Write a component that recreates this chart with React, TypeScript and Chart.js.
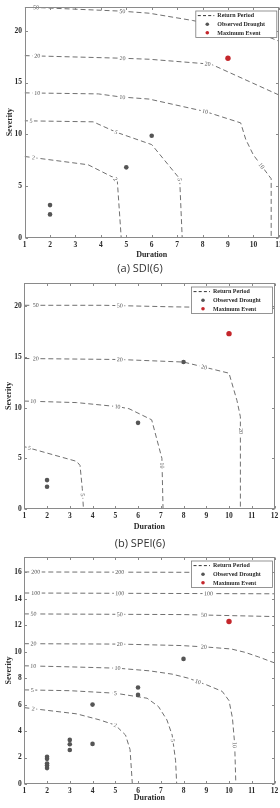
import React, { useEffect, useRef } from "react";
import { Chart, registerables } from "chart.js";

Chart.register(...registerables);

type XY = number[];

// ---------- (a) SDI(6) ----------
const sdiPeriods = ["50", "20", "10", "5", "2"];
const sdiRP50: XY[] = [[1, 22.3], [4.8, 21.9], [5.9, 21.7], [7.6, 21.0], [10.4, 19.6], [11, 19.0]];
const sdiRP20: XY[] = [[1, 17.6], [4.8, 17.35], [5.9, 17.25], [8.2, 16.8], [8.4, 16.7], [11, 13.8]];
const sdiRP10: XY[] = [[1, 14.0], [3.9, 13.9], [4.8, 13.6], [5.9, 13.4], [8.1, 12.2], [9.5, 11.1], [9.7, 9.5], [10.0, 8.0], [10.7, 5.7], [10.7, 0]];
const sdiRP5: XY[] = [[1, 11.3], [3.7, 11.2], [4.6, 10.2], [6.0, 9.0], [7.1, 5.7], [7.2, 0]];
const sdiRP2: XY[] = [[1, 7.85], [3.5, 7.05], [4.55, 5.75], [4.65, 5.4], [4.8, 0]];
const sdiLab50: XY[] = [[1.45, 22.28], [4.85, 21.86]];
const sdiLab20: XY[] = [[1.5, 17.55], [4.85, 17.35], [8.2, 16.8]];
const sdiLab10: XY[] = [[1.5, 14.0], [4.85, 13.58], [8.1, 12.2], [10.35, 7.0]];
const sdiLab5: XY[] = [[1.25, 11.3], [4.6, 10.2], [7.12, 5.6]];
const sdiLab2: XY[] = [[1.35, 7.75], [4.56, 5.65]];
const sdiObserved: XY[] = [[2, 2.25], [2, 3.15], [5, 6.8], [6, 9.85]];
const sdiMaximum: XY[] = [[9, 17.35]];

// ---------- (b) SPEI(6) ----------
const speiPeriods = ["50", "20", "10", "5"];
const speiRP50: XY[] = [[1, 20.1], [4.5, 20.1], [7.5, 19.95], [12, 19.8]];
const speiRP20: XY[] = [[1, 14.85], [5.2, 14.75], [8, 14.5], [10, 13.4], [10.35, 10.7], [10.5, 9.1], [10.5, 0]];
const speiRP10: XY[] = [[1, 10.65], [3.3, 10.5], [5.1, 10.1], [5.6, 9.9], [6.6, 8.8], [7.05, 5.0], [7.1, 0]];
const speiRP5: XY[] = [[1, 6.15], [3.3, 4.7], [3.45, 4.3], [3.55, 2], [3.6, 0]];
const speiLab50: XY[] = [[1.5, 20.1], [5.2, 20.05]];
const speiLab20: XY[] = [[1.5, 14.85], [5.2, 14.75], [8.9, 13.9], [10.47, 7.7]];
const speiLab10: XY[] = [[1.4, 10.6], [5.1, 10.1], [7.05, 4.3]];
const speiLab5: XY[] = [[1.22, 5.95], [3.56, 1.4]];
const speiObserved: XY[] = [[2, 2.2], [2, 2.85], [6, 8.5], [8, 14.5]];
const speiMaximum: XY[] = [[10, 17.3]];

// ---------- (c) third panel ----------
const p3Periods = ["200", "100", "50", "20", "10", "5", "2"];
const p3RP200: XY[] = [[1, 16.02], [12, 15.98]];
const p3RP100: XY[] = [[1, 14.43], [12, 14.37]];
const p3RP50: XY[] = [[1, 12.85], [8, 12.8], [12, 12.65]];
const p3RP20: XY[] = [[1, 10.6], [5.2, 10.57], [7.9, 10.46], [9, 10.35], [10.1, 10.2], [10.7, 9.95], [11.3, 9.6], [12, 9.15]];
const p3RP10: XY[] = [[1, 8.93], [3, 8.85], [5.1, 8.75], [6.5, 8.55], [7.5, 8.3], [8.2, 8.0], [9, 7.5], [9.7, 7.0], [10.0, 6.3], [10.15, 5.0], [10.25, 3.0], [10.3, 0]];
const p3RP5: XY[] = [[1, 7.11], [3, 7.05], [5, 6.86], [6.4, 6.48], [6.9, 5.85], [7.27, 4.84], [7.5, 3.7], [7.65, 1.8], [7.7, 0]];
const p3RP2: XY[] = [[1, 5.77], [3.3, 5.3], [4.3, 4.85], [5, 4.45], [5.45, 3.7], [5.65, 2.6], [5.75, 0]];
const p3Lab200: XY[] = [[1.5, 16.0], [5.2, 16.0]];
const p3Lab100: XY[] = [[1.5, 14.42], [5.2, 14.41], [9.1, 14.39]];
const p3Lab50: XY[] = [[1.4, 12.85], [5.2, 12.84], [8.9, 12.8]];
const p3Lab20: XY[] = [[1.4, 10.59], [5.2, 10.57], [8.9, 10.4]];
const p3Lab10: XY[] = [[1.4, 8.9], [5.1, 8.75], [8.7, 8.05], [10.25, 2.95]];
const p3Lab5: XY[] = [[1.35, 7.1], [5.0, 6.86], [7.56, 3.3]];
const p3Lab2: XY[] = [[1.4, 5.73], [5.0, 4.46]];
const p3Observed: XY[] = [
  [2, 2.05], [2, 1.9], [2, 1.55], [2, 1.4], [2, 1.2],
  [3, 3.33], [3, 3.0], [3, 2.57],
  [4, 6.0], [4, 3.03],
  [6, 7.29], [6, 6.73],
  [8, 9.45],
];
const p3Maximum: XY[] = [[10, 12.28]];

const legendLabels = ["Return Period", "Observed Drought", "Maximum Event"];
const xTitle = "Duration";
const yTitle = "Severity";
const captions = ["(a) SDI(6)", "(b) SPEI(6)"];

const LINE_COLOR = "#707070";
const OBS_COLOR = "#555555";
const MAX_COLOR = "#c4262b";
const FRAME_COLOR = "#8a8a8a";
const TEXT_COLOR = "#2a2a2a";
const SERIF = '"Liberation Serif", "DejaVu Serif", serif';

type PanelSpec = {
  top: number;
  w: number;
  h: number;
  area: { left: number; right: number; top: number; bottom: number };
  xMax: number;
  yMax: number;
  yStep: number;
  periods: string[];
  curves: XY[][];
  labels: XY[][];
  observed: XY[];
  maximum: XY[];
  xTitlePad: number;
  yTitlePad: number;
};

const panels: PanelSpec[] = [
  {
    top: 0, w: 290, h: 262,
    area: { left: 24.6, right: 278.8, top: 7, bottom: 237.7 },
    xMax: 11, yMax: 22.3, yStep: 5,
    periods: sdiPeriods,
    curves: [sdiRP50, sdiRP20, sdiRP10, sdiRP5, sdiRP2],
    labels: [sdiLab50, sdiLab20, sdiLab10, sdiLab5, sdiLab2],
    observed: sdiObserved, maximum: sdiMaximum,
    xTitlePad: 3, yTitlePad: 6,
  },
  {
    top: 276, w: 280, h: 262,
    area: { left: 24.3, right: 274.5, top: 7, bottom: 233 },
    xMax: 12, yMax: 22.3, yStep: 5,
    periods: speiPeriods,
    curves: [speiRP50, speiRP20, speiRP10, speiRP5],
    labels: [speiLab50, speiLab20, speiLab10, speiLab5],
    observed: speiObserved, maximum: speiMaximum,
    xTitlePad: 7, yTitlePad: 5,
  },
  {
    top: 550, w: 280, h: 258,
    area: { left: 24.3, right: 274.5, top: 7, bottom: 234 },
    xMax: 12, yMax: 17.15, yStep: 2,
    periods: p3Periods,
    curves: [p3RP200, p3RP100, p3RP50, p3RP20, p3RP10, p3RP5, p3RP2],
    labels: [p3Lab200, p3Lab100, p3Lab50, p3Lab20, p3Lab10, p3Lab5, p3Lab2],
    observed: p3Observed, maximum: p3Maximum,
    xTitlePad: 6, yTitlePad: 5.3,
  },
];

const toPts = (a: XY[]) => a.map(([x, y]) => ({ x, y }));

function makeOverlay(spec: PanelSpec) {
  return {
    id: "overlay",
    afterDatasetDraw(chart: any, args: any) {
      if (args.index !== 2) return;
      const ctx = chart.ctx;
      const xs = chart.scales.x;
      const ys = chart.scales.y;
      ctx.save();
      ctx.font = `6px ${SERIF}`;
      ctx.textAlign = "center";
      ctx.textBaseline = "middle";
      spec.curves.forEach((curve, ci) => {
        const text = spec.periods[ci];
        const px = curve.map(([x, y]) => [xs.getPixelForValue(x), ys.getPixelForValue(y)]);
        spec.labels[ci].forEach(([lxv, lyv]) => {
          const lx = xs.getPixelForValue(lxv);
          const ly = ys.getPixelForValue(lyv);
          let best = { d: Infinity, x: lx, y: ly, a: 0 };
          for (let i = 0; i < px.length - 1; i++) {
            const [x1, y1] = px[i];
            const [x2, y2] = px[i + 1];
            const dx = x2 - x1, dy = y2 - y1;
            const L = dx * dx + dy * dy;
            let t = L ? ((lx - x1) * dx + (ly - y1) * dy) / L : 0;
            t = Math.max(0, Math.min(1, t));
            const qx = x1 + t * dx, qy = y1 + t * dy;
            const d = (qx - lx) ** 2 + (qy - ly) ** 2;
            if (d < best.d) {
              let a = Math.atan2(dy, dx);
              if (a > Math.PI / 2) a -= Math.PI;
              if (a < -Math.PI / 2) a += Math.PI;
              best = { d, x: qx, y: qy, a };
            }
          }
          ctx.save();
          ctx.translate(best.x, best.y);
          ctx.rotate(best.a);
          const w = ctx.measureText(text).width;
          ctx.fillStyle = "#ffffff";
          ctx.fillRect(-w / 2 - 1.5, -3, w + 3, 6);
          ctx.fillStyle = "#555555";
          ctx.fillText(text, 0, 0.3);
          ctx.restore();
        });
      });
      ctx.restore();
    },
    afterDraw(chart: any) {
      const ctx = chart.ctx;
      const ca = chart.chartArea;
      const xs = chart.scales.x;
      const ys = chart.scales.y;
      ctx.save();
      // frame
      ctx.strokeStyle = FRAME_COLOR;
      ctx.lineWidth = 1;
      const L = Math.round(ca.left) + 0.5, R = Math.round(ca.right) - 0.5;
      const T = Math.round(ca.top) + 0.5, B = Math.round(ca.bottom) - 0.5;
      ctx.strokeRect(L, T, R - L, B - T);
      // inward ticks
      ctx.beginPath();
      for (let v = 1; v <= spec.xMax; v++) {
        const x = Math.round(xs.getPixelForValue(v)) + 0.5;
        ctx.moveTo(x, B); ctx.lineTo(x, B - 2.5);
        ctx.moveTo(x, T); ctx.lineTo(x, T + 2.5);
      }
      for (let v = 0; v <= spec.yMax; v += spec.yStep) {
        const y = Math.round(ys.getPixelForValue(v)) + 0.5;
        ctx.moveTo(L, y); ctx.lineTo(L + 2.5, y);
        ctx.moveTo(R, y); ctx.lineTo(R - 2.5, y);
      }
      ctx.stroke();
      // legend
      const bw = 81, bh = 26.5;
      const bx = ca.right - 2 - bw;
      const by = ca.top + 4;
      ctx.fillStyle = "#ffffff";
      ctx.fillRect(bx, by, bw, bh);
      ctx.strokeStyle = "#7a7a7a";
      ctx.lineWidth = 0.8;
      ctx.strokeRect(bx, by, bw, bh);
      const rows = [by + 4.6, by + 13.2, by + 21.8];
      ctx.strokeStyle = "#333333";
      ctx.lineWidth = 1;
      ctx.setLineDash([3, 2.2]);
      ctx.beginPath();
      ctx.moveTo(bx + 2, rows[0]);
      ctx.lineTo(bx + 18.5, rows[0]);
      ctx.stroke();
      ctx.setLineDash([]);
      ctx.fillStyle = OBS_COLOR;
      ctx.beginPath();
      ctx.arc(bx + 11.5, rows[1], 1.8, 0, Math.PI * 2);
      ctx.fill();
      ctx.fillStyle = MAX_COLOR;
      ctx.beginPath();
      ctx.arc(bx + 11.5, rows[2], 1.8, 0, Math.PI * 2);
      ctx.fill();
      ctx.fillStyle = TEXT_COLOR;
      ctx.font = `bold 6px ${SERIF}`;
      ctx.textAlign = "left";
      ctx.textBaseline = "middle";
      legendLabels.forEach((t, i) => ctx.fillText(t, bx + 21.5, rows[i] + 0.3));
      ctx.restore();
    },
  };
}

function Panel({ spec }: { spec: PanelSpec }) {
  const ref = useRef<HTMLCanvasElement | null>(null);
  useEffect(() => {
    if (!ref.current) return;
    const { area, w, h } = spec;
    const datasets: any[] = [
      {
        label: legendLabels[2],
        data: toPts(spec.maximum),
        showLine: false,
        pointRadius: 2.7,
        pointBackgroundColor: MAX_COLOR,
        pointBorderColor: MAX_COLOR,
        pointBorderWidth: 0,
      },
      {
        label: legendLabels[1],
        data: toPts(spec.observed),
        showLine: false,
        pointRadius: 2.3,
        pointBackgroundColor: OBS_COLOR,
        pointBorderColor: OBS_COLOR,
        pointBorderWidth: 0,
      },
      ...spec.curves.map((c, i) => ({
        label: spec.periods[i],
        data: toPts(c),
        showLine: true,
        borderColor: LINE_COLOR,
        borderWidth: 1,
        borderDash: [5, 3],
        pointRadius: 0,
        fill: false,
        tension: 0,
      })),
    ];
    const tickFont = { family: SERIF, size: 7.5, weight: "bold" as const, lineHeight: 1 };
    const titleFont = { family: SERIF, size: 8, weight: "bold" as const, lineHeight: 1 };
    const chart = new Chart(ref.current, {
      type: "scatter",
      data: { datasets },
      options: {
        animation: false,
        responsive: false,
        devicePixelRatio: 1,
        events: [],
        layout: { padding: { left: 0, top: area.top, right: w - area.right, bottom: 0 } },
        plugins: { legend: { display: false }, tooltip: { enabled: false } },
        scales: {
          x: {
            type: "linear",
            min: 1,
            max: spec.xMax,
            grid: { display: false, drawTicks: false },
            border: { display: false },
            ticks: { stepSize: 1, includeBounds: false, padding: 3.5, color: TEXT_COLOR, font: tickFont, maxRotation: 0, autoSkip: false },
            title: { display: true, text: xTitle, color: TEXT_COLOR, font: titleFont, padding: { top: 0, bottom: spec.xTitlePad } },
            afterFit: (s: any) => {
              s.height = h - area.bottom;
              s.paddingLeft = 0;
              s.paddingRight = 0;
            },
          },
          y: {
            type: "linear",
            min: 0,
            max: spec.yMax,
            grid: { display: false, drawTicks: false },
            border: { display: false },
            ticks: { stepSize: spec.yStep, includeBounds: false, padding: 2.5, color: TEXT_COLOR, font: tickFont, autoSkip: false },
            title: { display: true, text: yTitle, color: TEXT_COLOR, font: titleFont, padding: { top: spec.yTitlePad, bottom: 0 } },
            afterFit: (s: any) => {
              s.width = area.left;
              s.paddingTop = 0;
              s.paddingBottom = 0;
            },
          },
        },
      } as any,
      plugins: [makeOverlay(spec)],
    });
    return () => chart.destroy();
  }, [spec]);
  return (
    <canvas
      ref={ref}
      width={spec.w}
      height={spec.h}
      style={{ position: "absolute", left: 0, top: spec.top, width: spec.w, height: spec.h }}
    />
  );
}

export default function App() {
  return (
    <div
      style={{
        position: "fixed",
        left: 0,
        top: 0,
        width: 280,
        height: 808,
        overflow: "hidden",
        background: "#ffffff",
      }}
    >
      {panels.map((p, i) => (
        <Panel key={i} spec={p} />
      ))}
      {[268, 543].map((cy, i) => (
        <div
          key={i}
          style={{
            position: "absolute",
            left: 0,
            width: 280,
            top: cy - 8,
            height: 16,
            lineHeight: "16px",
            textAlign: "center",
            fontFamily: '"Open Sans", sans-serif',
            fontSize: 11,
            color: "#333333",
          }}
        >
          {captions[i]}
        </div>
      ))}
    </div>
  );
}
